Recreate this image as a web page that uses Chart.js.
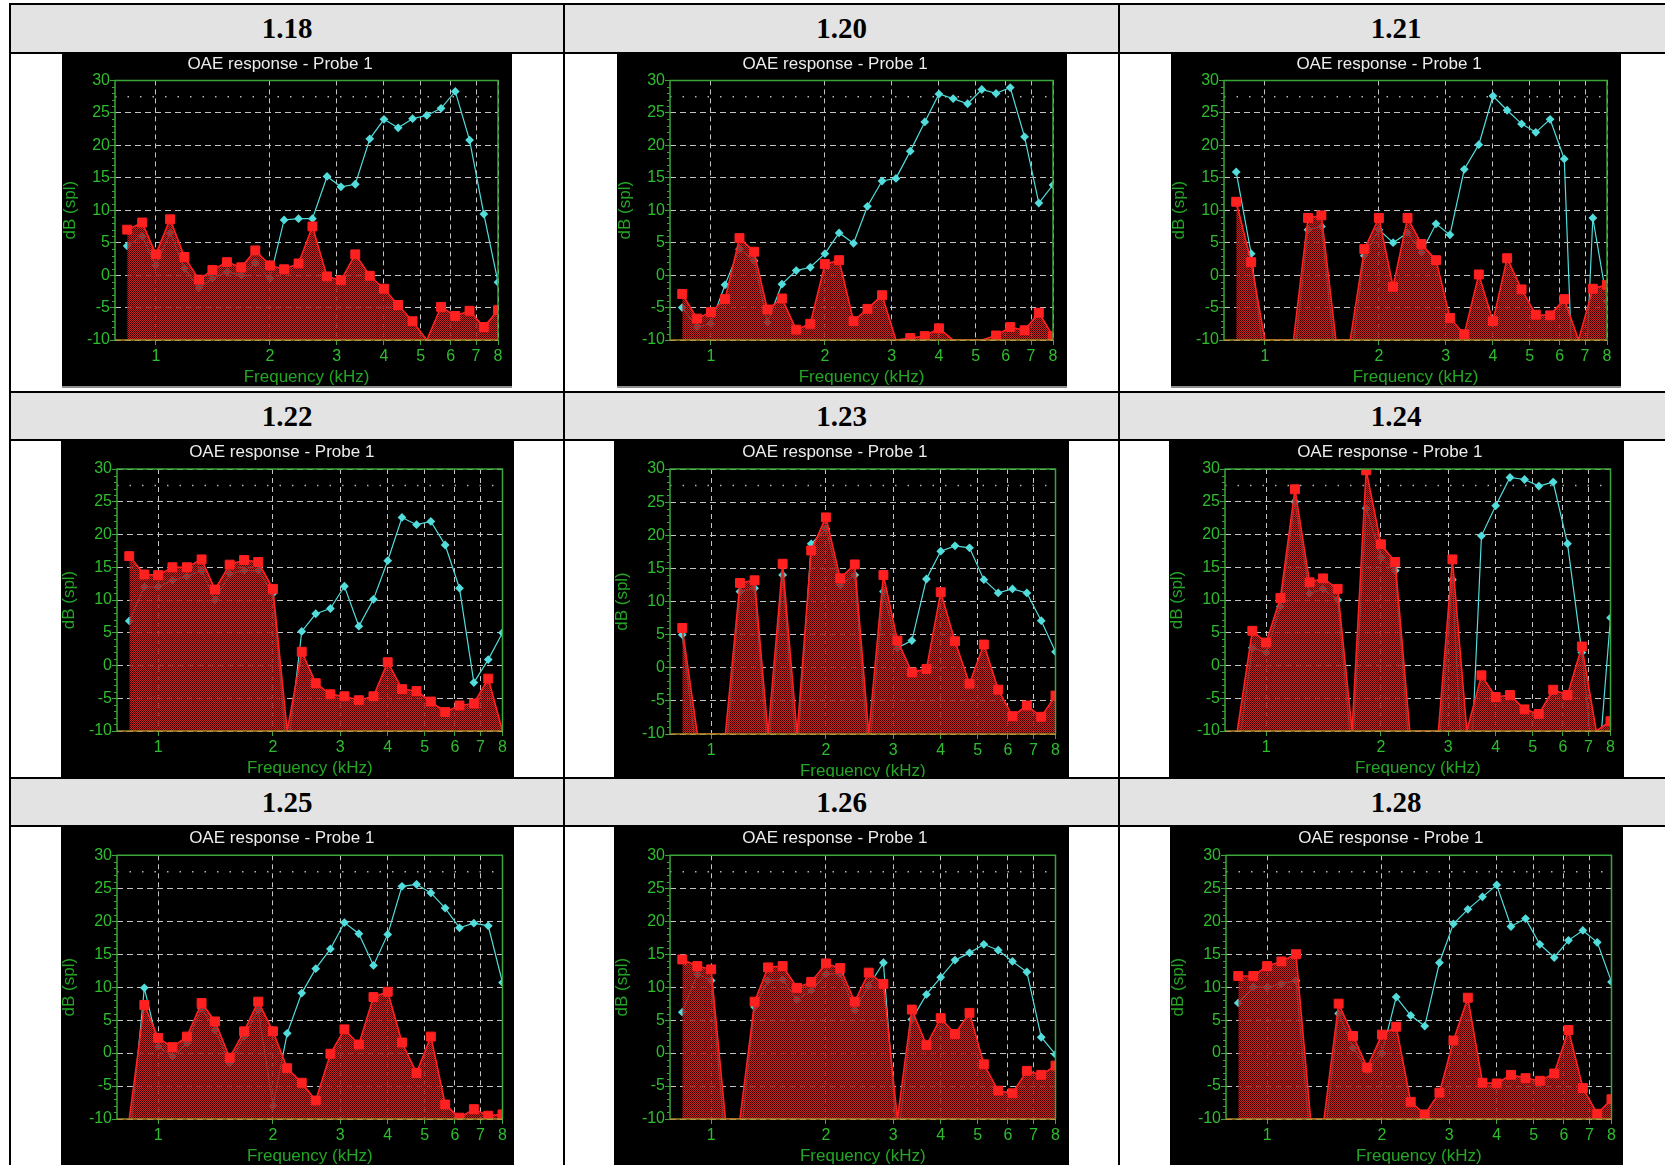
<!DOCTYPE html>
<html>
<head>
<meta charset="utf-8">
<title>OAE response - Probe 1</title>
<script src="https://cdn.jsdelivr.net/npm/chart.js@4.4.1/dist/chart.umd.min.js"></script>
<style>
  html, body { margin: 0; padding: 0; background: #fff; }
  body { position: relative; width: 1665px; height: 1165px; overflow: hidden; }
  .rule { position: absolute; background: #000; }
  .head {
    position: absolute; background: #e3e3e3;
    display: flex; align-items: center; justify-content: center;
    font: bold 29px "Liberation Serif", "Times New Roman", serif; color: #000;
  }
  .panel { position: absolute; background: #000; }
  .panel.edge { border-bottom: 2px solid #8e8e8e; }
  .panel canvas { display: block; }
</style>
</head>
<body>
<script>
// frequencies of the DP-gram points (kHz)
const FREQS_KHZ = [0.84, 0.92, 1.00, 1.09, 1.19, 1.30, 1.41, 1.54, 1.68, 1.83, 2.00, 2.18, 2.38, 2.59,
  2.83, 3.08, 3.36, 3.67, 4.00, 4.36, 4.76, 5.19, 5.66, 6.17, 6.73, 7.34, 8.00];
const X_TICKS = [1, 2, 3, 4, 5, 6, 7, 8];
const Y_TICKS = [-10, -5, 0, 5, 10, 15, 20, 25, 30];
const Y_MINOR_STEP = 1;
const X_MIN = 0.78;
const REF_LEVEL = 27.5;

// DP level (cyan) and noise floor (red), dB SPL
const DP_118 = [4.5, 6, 1.5, 6.5, 1, -2, -0.5, 0.5, 0, 1.9, -0.5, 8.5, 8.7, 8.7, 15.2, 13.6, 14, 21, 24, 22.7, 24.1, 24.6, 25.7, 28.3, 20.8, 9.4, -1.1];
const NOISE_118 = [7, 8.1, 3.2, 8.6, 2.8, -0.7, 0.8, 2.0, 1.2, 3.8, 1.5, 0.9, 1.8, 7.5, -0.2, -0.8, 3.2, -0.1, -2.1, -4.6, -7.1, -10, -4.9, -6.3, -5.5, -8, -5.4];

const DP_120 = [-5, -8, -7.5, -1.5, 4, 2.2, -7.3, -1.4, 0.7, 1.2, 3.3, 6.5, 4.9, 10.6, 14.5, 14.9, 19.1, 23.6, 27.9, 27.2, 26.4, 28.6, 28, 28.9, 21.3, 11.1, 13.9];
const NOISE_120 = [-2.9, -6.7, -5.7, -3.7, 5.7, 3.6, -5.3, -3.6, -8.4, -7.5, 1.7, 2.3, -7.1, -5.2, -3.1, -10, -9.7, -9.4, -8.2, -10, -10, -10, -9.3, -8, -8.5, -5.8, -9.4];

const DP_121 = [15.9, 3.3, -14, -14, -14, 7, 7.5, -14, -14, 3, 7, 5, 6.5, 3.5, 7.9, 6.2, 16.3, 20.1, 27.6, 25.4, 23.3, 22, 24, 17.9, -40, 8.8, -4];
const NOISE_121 = [11.3, 2, -10, -10, -10, 8.8, 9.2, -10, -10, 4, 8.8, -1.8, 8.8, 4.8, 2.3, -6.6, -9.1, 0.1, -7.1, 2.6, -2.2, -6.1, -6.2, -3.7, -10, -2.1, -1.5];

const DP_122 = [6.8, 12, 12, 13, 13.6, 14.5, 10, 14, 14.5, 14.5, 11, -14, 5.2, 7.9, 8.7, 12.1, 6, 10.1, 16, 22.6, 21.5, 22, 18.4, 11.8, -2.6, 0.9, 5];
const NOISE_122 = [16.7, 13.9, 13.8, 15, 15, 16.2, 11.6, 15.4, 16.1, 15.8, 11.7, -10, 2.1, -2.7, -4.4, -4.7, -5.3, -4.7, 0.5, -3.6, -3.9, -5.5, -7.1, -6.1, -5.8, -2, -10];

const DP_123 = [5, -14, -14, -14, 11.5, 12, -14, 14, -14, 18.7, 21, 12.5, 14, -14, 11.5, 3, 4.1, 13.4, 17.6, 18.4, 18.1, 13.3, 11.3, 11.9, 11.3, 7.1, 2.4];
const NOISE_123 = [6, -10, -10, -10, 12.8, 13.2, -10, 15.7, -10, 17.7, 22.7, 13.5, 15.6, -10, 14, 4.1, -0.7, -0.2, 11.4, 4, -2.4, 3.5, -3.3, -7.3, -5.7, -7.4, -4.2];

const DP_124 = [-14, 2.7, 2, 9, 25, 11, 11.7, 10, -14, 24, 16.5, 14.5, -14, -14, -14, 13.1, -30, 19.8, 24.4, 28.7, 28.4, 27.4, 28, 18.6, 2, -20, 7.3];
const NOISE_124 = [-10, 5.3, 3.5, 10.3, 26.9, 12.7, 13.3, 11.7, -10, 29.8, 18.5, 15.8, -10, -10, -10, 16.2, -10, -1.5, -4.8, -4.5, -6.7, -7.4, -3.7, -4.5, 2.9, -10, -8.5];

const DP_125 = [-14, 9.9, 1, -0.5, 1.5, 6.8, 3.5, -1.5, 2.5, 6.5, -8, 3, 9.1, 12.8, 15.8, 19.8, 18.1, 13.3, 18, 25.3, 25.6, 24.3, 22, 19, 19.7, 19.3, 10.7];
const NOISE_125 = [-10, 7.3, 2.3, 0.9, 2.5, 7.6, 4.8, -0.7, 3.3, 7.8, 3.3, -2.3, -4.5, -7.2, -0.1, 3.6, 1.3, 8.5, 9.3, 1.6, -3, 2.5, -7.8, -9.8, -8.5, -9.5, -9.3];

const DP_126 = [6.2, 12, 11, -14, -14, 7, 11, 11.1, 8.1, 9.5, 12, 12, 6.5, 10.2, 13.7, -14, 5.1, 8.9, 11.5, 14.1, 15.2, 16.5, 15.6, 13.9, 12.3, 2.4, -0.2];
const NOISE_126 = [14.2, 13.2, 12.7, -10, -10, 7.8, 13, 13.2, 9.9, 10.8, 13.6, 12.9, 7.8, 12.2, 10.5, -10, 6.6, 1.2, 5.3, 2.9, 6.1, -1.7, -5.7, -6.1, -2.7, -3.3, -1.9];

const DP_128 = [7.6, 10, 10, 10.5, 11, -14, -14, 6, 0.8, -2.5, 0, 8.5, 5.7, 4.1, 13.7, 19.6, 21.8, 23.7, 25.5, 19.2, 20.4, 16.5, 14.5, 17.1, 18.6, 16.8, 10.8];
const NOISE_128 = [11.7, 11.7, 13.2, 13.9, 15, -10, -10, 7.5, 2.6, -2.2, 2.8, 4, -7.4, -9.3, -6, 1.9, 8.4, -4.5, -4.6, -3.3, -3.8, -4.2, -3.1, 3.5, -5.3, -9.2, -7];

const PANELS = [
  { label: "1.18", dp: DP_118, noise: NOISE_118 },
  { label: "1.20", dp: DP_120, noise: NOISE_120 },
  { label: "1.21", dp: DP_121, noise: NOISE_121 },
  { label: "1.22", dp: DP_122, noise: NOISE_122 },
  { label: "1.23", dp: DP_123, noise: NOISE_123 },
  { label: "1.24", dp: DP_124, noise: NOISE_124 },
  { label: "1.25", dp: DP_125, noise: NOISE_125 },
  { label: "1.26", dp: DP_126, noise: NOISE_126 },
  { label: "1.28", dp: DP_128, noise: NOISE_128 },
];

// page layout (table rules, cells, chart boxes)
const H_RULES = [3, 52, 391, 439, 777, 825];
const V_RULES = [9, 563, 1118, 1672];
const COLS = [{ x: 11, w: 552 }, { x: 565, w: 553 }, { x: 1120, w: 552 }];
const ROWS = [
  { headTop: 5, headH: 47, top: 54, h: 332, yAxisW: 53, xAxisH: 46, titleTop: 0, titleBottom: 6, edge: true },
  { headTop: 393, headH: 46, top: 441, h: 336, yAxisW: 56, xAxisH: 46, titleTop: 1, titleBottom: 6.6 },
  { headTop: 779, headH: 46, top: 827, h: 338, yAxisW: 56, xAxisH: 46, titleTop: 1, titleBottom: 6.9 },
];
const PANEL_W = [450, 450, 450, 453, 455, 455, 453, 455, 453];
const PANEL_TWEAKS = { 4: { xAxisH: 43, xTitleBottom: -3 } };

const FONT = '"Liberation Sans", Arial, sans-serif';
const GREEN = "#2fbd2f";
const GREEN_TITLE = "#25a525";
const FRAME = "#3aa53a";
const BASELINE = "#a88a26";
const GRID = "#c4c4c4";
const CYAN = "#52dcdc";
const RED = "#ff2020";

Chart.defaults.font.family = FONT;

function addBox(cls, left, top, width, height, text) {
  const el = document.createElement("div");
  el.className = cls;
  Object.assign(el.style, { left: left + "px", top: top + "px", width: width + "px", height: height + "px" });
  if (text) el.textContent = text;
  document.body.appendChild(el);
  return el;
}

function hatchFor(canvas) {
  const tile = document.createElement("canvas");
  tile.width = 2;
  tile.height = 2;
  const g = tile.getContext("2d");
  g.fillStyle = "#cc2020";
  g.fillRect(0, 0, 1, 1);
  g.fillRect(1, 1, 1, 1);
  g.fillStyle = "rgba(100, 0, 0, 0.65)";
  g.fillRect(1, 0, 1, 1);
  g.fillRect(0, 1, 1, 1);
  return canvas.getContext("2d").createPattern(tile, "repeat");
}

// green plot frame, olive baseline and the small 1 dB ticks
const plotFrame = {
  id: "plotFrame",
  afterDatasetsDraw(chart) {
    const { ctx, chartArea: a, scales: { y } } = chart;
    ctx.save();
    ctx.strokeStyle = FRAME;
    ctx.lineWidth = 1;
    ctx.beginPath();
    for (let v = Y_TICKS[0]; v <= Y_TICKS[Y_TICKS.length - 1]; v += Y_MINOR_STEP) {
      if (Y_TICKS.includes(v)) continue;
      const py = Math.round(y.getPixelForValue(v)) + 0.5;
      ctx.moveTo(a.left - 3, py);
      ctx.lineTo(a.left, py);
    }
    ctx.stroke();
    ctx.lineWidth = 1.5;
    ctx.beginPath();
    ctx.moveTo(a.left, a.bottom);
    ctx.lineTo(a.left, a.top);
    ctx.lineTo(a.right, a.top);
    ctx.lineTo(a.right, a.bottom);
    ctx.stroke();
    ctx.strokeStyle = BASELINE;
    ctx.beginPath();
    ctx.moveTo(a.left, a.bottom);
    ctx.lineTo(a.right, a.bottom);
    ctx.stroke();
    ctx.restore();
  },
};

function drawPanel(canvas, panel, lay) {
  const yMin = Y_TICKS[0];
  const yMax = Y_TICKS[Y_TICKS.length - 1];
  const xMax = X_TICKS[X_TICKS.length - 1];
  const points = (values) => FREQS_KHZ.map((f, i) => ({ x: f, y: values[i] }));

  return new Chart(canvas, {
    type: "line",
    data: {
      datasets: [
        {
          label: "Noise",
          data: points(panel.noise),
          order: 1,
          borderColor: RED,
          borderWidth: 1.6,
          backgroundColor: hatchFor(canvas),
          fill: "start",
          tension: 0,
          pointStyle: "rect",
          pointRadius: (ctx) => (ctx.parsed && ctx.parsed.y > yMin ? 6.3 : 0),
          pointBackgroundColor: RED,
          pointBorderColor: RED,
          pointBorderWidth: 1,
        },
        {
          label: "DP",
          data: points(panel.dp),
          order: 2,
          borderColor: CYAN,
          borderWidth: 1.2,
          fill: false,
          tension: 0,
          pointStyle: "rectRot",
          pointRadius: 4.4,
          pointBackgroundColor: CYAN,
          pointBorderColor: CYAN,
          pointBorderWidth: 0,
        },
        {
          label: "Reference",
          data: [{ x: X_MIN, y: REF_LEVEL }, { x: xMax, y: REF_LEVEL }],
          order: 3,
          borderColor: "#b4b4b4",
          borderWidth: 1.5,
          borderDash: [1.5, 11],
          pointRadius: 0,
          fill: false,
        },
      ],
    },
    options: {
      responsive: false,
      animation: false,
      devicePixelRatio: 1,
      events: [],
      layout: { padding: { left: 0, right: lay.padRight, top: 0, bottom: 0 } },
      plugins: {
        legend: { display: false },
        tooltip: { enabled: false },
        title: {
          display: true,
          text: "OAE response - Probe 1",
          color: "#ececec",
          font: { size: 17, weight: "normal", lineHeight: 1.2 },
          padding: { top: lay.titleTop, bottom: lay.titleBottom },
        },
      },
      scales: {
        x: {
          type: "logarithmic",
          min: X_MIN,
          max: xMax,
          afterBuildTicks: (s) => { s.ticks = X_TICKS.map((v) => ({ value: v })); },
          afterFit: (s) => { s.height = lay.xAxisH; },
          ticks: {
            color: GREEN,
            font: { size: 16 },
            padding: 2,
            autoSkip: false,
            maxRotation: 0,
            callback: (v) => String(v),
          },
          grid: { color: GRID, lineWidth: 1, tickColor: FRAME, tickLength: 5, tickBorderDash: [] },
          border: { display: false, dash: [5, 4] },
          title: {
            display: true,
            text: "Frequency (kHz)",
            color: GREEN_TITLE,
            font: { size: 17, lineHeight: 1 },
            padding: { top: 0, bottom: lay.xTitleBottom },
          },
        },
        y: {
          min: yMin,
          max: yMax,
          afterBuildTicks: (s) => { s.ticks = Y_TICKS.map((v) => ({ value: v })); },
          afterFit: (s) => { s.width = lay.yAxisW; },
          ticks: { color: GREEN, font: { size: 16 }, padding: 0 },
          grid: { color: GRID, lineWidth: 1, tickColor: FRAME, tickLength: 5, tickBorderDash: [] },
          border: { display: false, dash: [6, 4] },
          title: {
            display: true,
            text: "dB (spl)",
            color: GREEN_TITLE,
            font: { size: 17, lineHeight: 1 },
            padding: 0,
          },
        },
      },
    },
    plugins: [plotFrame],
  });
}

H_RULES.forEach((y) => addBox("rule", V_RULES[0], y, V_RULES[V_RULES.length - 1] - V_RULES[0] + 2, 2));
V_RULES.forEach((x) => addBox("rule", x, H_RULES[0], 2, 1200));

PANELS.forEach((panel, i) => {
  const row = ROWS[Math.floor(i / 3)];
  const col = COLS[i % 3];
  const w = PANEL_W[i];
  addBox("head", col.x, row.headTop, col.w, row.headH, panel.label);

  const left = col.x + (col.w - w) / 2;
  const box = addBox(row.edge ? "panel edge" : "panel", left, row.top, w, row.h);
  const canvas = document.createElement("canvas");
  canvas.width = w;
  canvas.height = row.h;
  box.appendChild(canvas);

  const lay = Object.assign(
    {
      padRight: row.edge ? 14 : w - 441.5,
      yAxisW: row.yAxisW,
      xAxisH: row.xAxisH,
      titleTop: row.titleTop,
      titleBottom: row.titleBottom,
      xTitleBottom: 0,
    },
    PANEL_TWEAKS[i] || {}
  );
  drawPanel(canvas, panel, lay);
});
</script>
</body>
</html>
